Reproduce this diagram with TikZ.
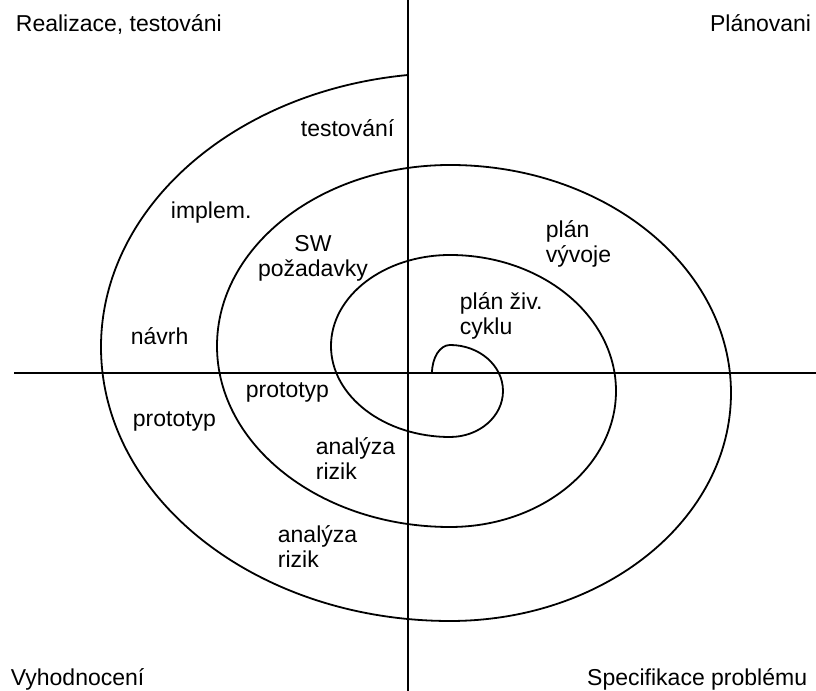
\documentclass[tikz,border=0pt]{standalone}
\usepackage{fontspec}
\setmainfont{Liberation Sans}
\usetikzlibrary{positioning}

\begin{document}
\begin{tikzpicture}[x=0.5pt, y=0.5pt, line width=0.9pt,
  T/.style={inner sep=0pt, font=\fontsize{11.5}{12.5}\selectfont},
  M/.style={T, align=left, anchor=north west}]

\useasboundingbox (0,0) rectangle (816,691);

% axes
\coordinate (top) at (408,691);
\coordinate (bot) at (408,0);
\coordinate (lft) at (14,318);
\coordinate (rgt) at (816,318);
\draw (top) -- (bot);
\draw (lft) -- (rgt);

% spiral from the centre outwards
\coordinate (s0) at (432,318);
\draw (s0) arc[start angle=180, end angle=90, x radius=18, y radius=28]
  arc[start angle=90, end angle=-90, x radius=53, y radius=46]
  arc[start angle=270, end angle=90, x radius=119, y radius=91]
  arc[start angle=90, end angle=-90, x radius=166, y radius=136]
  arc[start angle=270, end angle=90, x radius=233, y radius=181]
  arc[start angle=90, end angle=-90, x radius=281, y radius=228]
  arc[start angle=270, end angle=97, x radius=349, y radius=274];

% quadrant titles
\node[T, anchor=base west] (q1) at (15,659) {Realizace, testováni};
\node[T, anchor=base east] (q2) at (812,659) {Plánovani};
\node[T, anchor=base west] (q3) at (10,5) {Vyhodnocení};
\node[T, anchor=base east] (q4) at (808,5) {Specifikace problému};

% activities along the spiral
\node[T, anchor=base west] (test) at (300,554) {testování};
\node[T, anchor=base west] (impl) at (170,472) {implem.};
\node[T, anchor=base west] (navrh) at (130,346) {návrh};
\node[T, anchor=base west] (proto1) at (245,293) {prototyp};
\node[T, anchor=base west] (proto2) at (132,264) {prototyp};
\node[T, align=center, anchor=north] (swreq) at (313,456) {SW\\požadavky};
\node[M] (risk1) at (315,254) {analýza\\rizik};
\node[M] (risk2) at (277,166) {analýza\\rizik};
\node[M] (pdev) at (545,471) {plán\\vývoje};
\node[M] (plife) at (459,399) {plán živ.\\cyklu};

\end{tikzpicture}
\end{document}
